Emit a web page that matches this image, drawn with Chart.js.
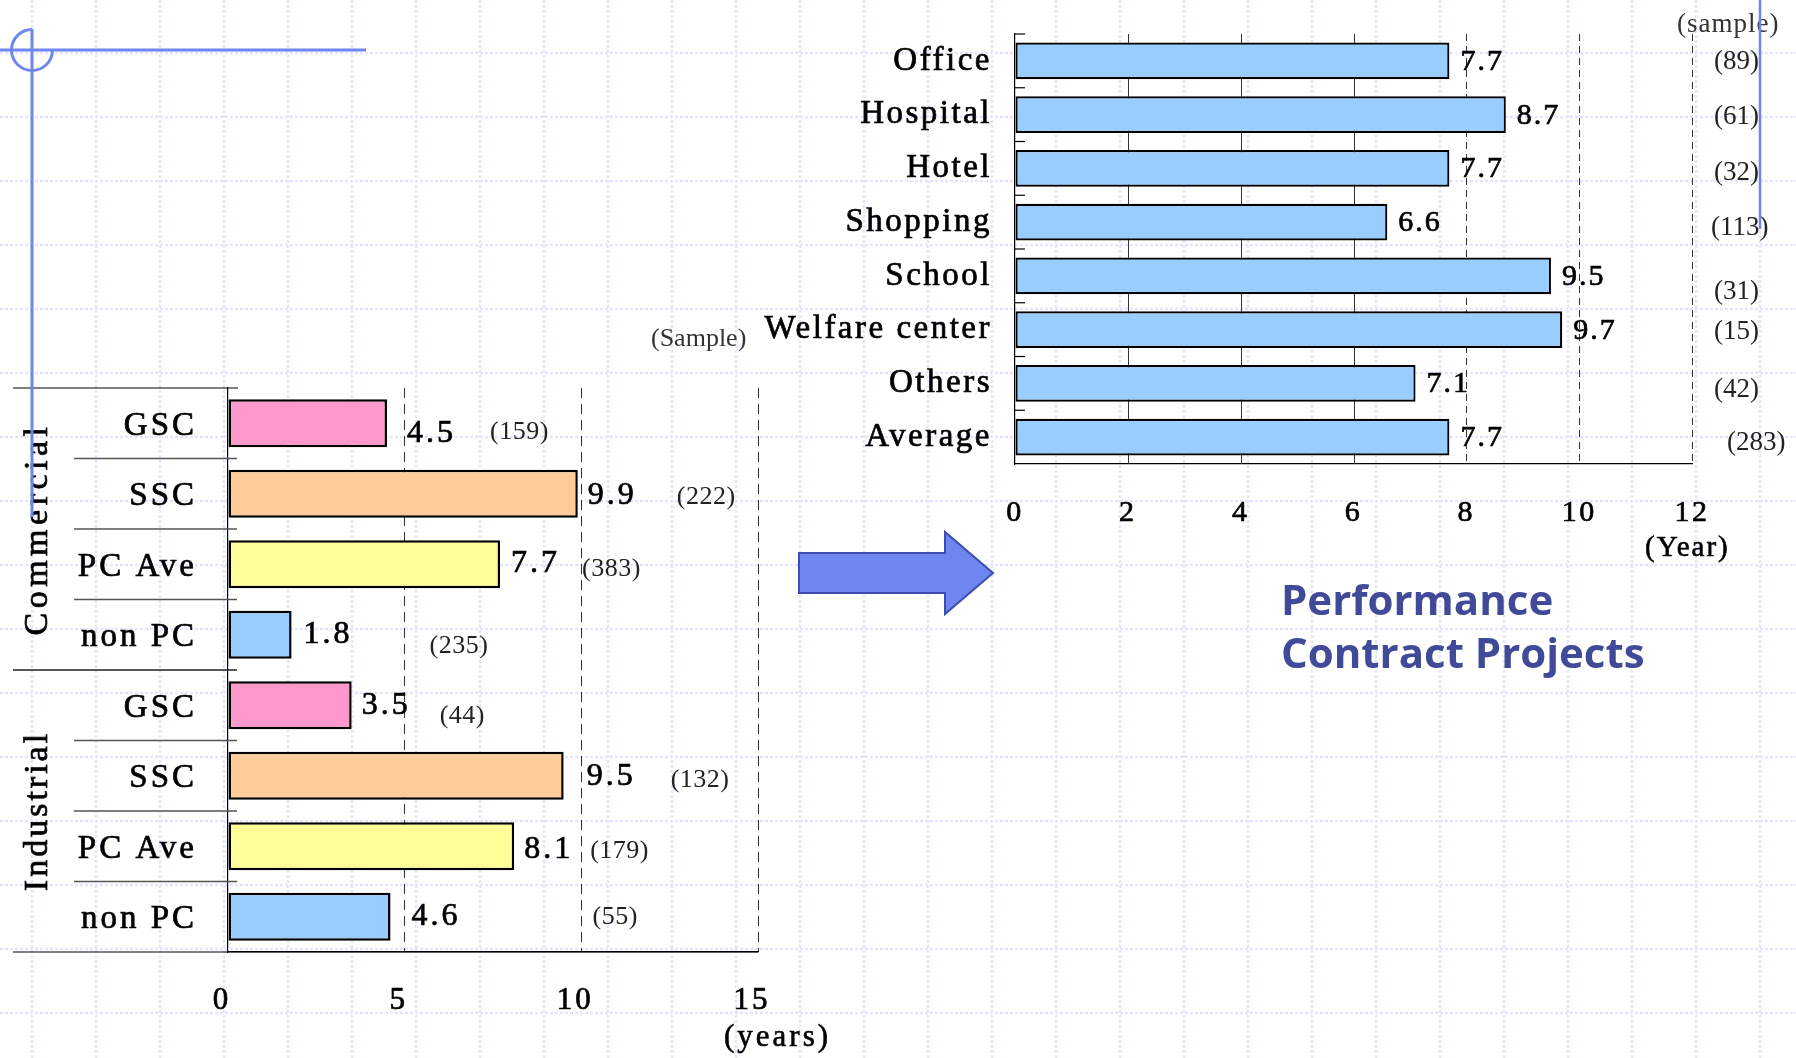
<!DOCTYPE html>
<html><head><meta charset="utf-8">
<script src="https://cdn.jsdelivr.net/npm/chart.js@4.4.0/dist/chart.umd.min.js"></script>
<style>
html,body{margin:0;padding:0;background:#fff;}
#page{position:relative;width:1796px;height:1058px;overflow:hidden;background:#fff;}
canvas.full{position:absolute;left:0;top:0;}
svg.deco{position:absolute;left:0;top:0;}
.t{position:absolute;white-space:nowrap;font-family:"Liberation Serif",serif;color:#222;line-height:1;}
.sb{-webkit-text-stroke:0.6px #000;}
.title{position:absolute;left:1281px;top:572px;font-family:"Open Sans",sans-serif;font-weight:700;font-size:42px;line-height:53px;color:#404a98;white-space:nowrap;}
</style></head><body>
<div id="page">
<canvas id="bg" class="full" width="1796" height="1058"></canvas>
<canvas id="leftChart" class="full" width="1796" height="1058"></canvas>
<canvas id="rightChart" class="full" width="1796" height="1058"></canvas>
<div class="t" style="left:651px;top:325px;font-size:26px;color:#333;">(Sample)</div>
<div class="t" style="left:1677px;top:10px;font-size:27px;color:#333;letter-spacing:1px;">(sample)</div>
<div class="t sb" style="left:724px;top:1020px;font-size:31px;color:#000;letter-spacing:3px;">(years)</div>
<div class="t sb" style="left:1645px;top:532px;font-size:29px;color:#000;letter-spacing:2px;">(Year)</div>
<div class="title">Performance<br>Contract Projects</div>
<svg class="deco" width="1796" height="1058">
  <line x1="0" y1="50" x2="366" y2="50" stroke="#6f86f0" stroke-width="3"/>
  <line x1="32" y1="29" x2="32" y2="517" stroke="#6f86f0" stroke-width="3"/>
  <path d="M 52.5 50 A 20.5 20.5 0 1 1 32 29.5" fill="none" stroke="#6f86f0" stroke-width="3"/>
  <line x1="1760" y1="0" x2="1760" y2="229" stroke="#6f86f0" stroke-width="2.5"/>
  <polygon points="799,553 945,553 945,532 993,573 945,614 945,593 799,593" fill="#6f86f0" stroke="#3c4cb0" stroke-width="2"/>
</svg>
</div>
<script>
// ---------------- DATA ----------------
const leftCategories = ['GSC', 'SSC', 'PC Ave', 'non PC', 'GSC', 'SSC', 'PC Ave', 'non PC'];
const leftGroups = ['Commercial', 'Industrial'];
const leftValues = [4.5, 9.9, 7.7, 1.8, 3.5, 9.5, 8.1, 4.6];
const leftSamples = [159, 222, 383, 235, 44, 132, 179, 55];
const leftTicks = [0, 5, 10, 15];

const rightCategories = ['Office', 'Hospital', 'Hotel', 'Shopping', 'School', 'Welfare center', 'Others', 'Average'];
const rightValues = [7.7, 8.7, 7.7, 6.6, 9.5, 9.7, 7.1, 7.7];
const rightSamples = [89, 61, 32, 113, 31, 15, 42, 283];
const rightTicks = [0, 2, 4, 6, 8, 10, 12];
const rightSolidGrid = [2, 4, 6];

// ---------------- STYLE / LAYOUT ----------------
const SERIF = '"Liberation Serif", serif';
const STROKE = 0.7;
const leftColors = ['#ff99cc', '#ffcc99', '#ffff99', '#99ccff', '#ff99cc', '#ffcc99', '#ffff99', '#99ccff'];
const leftValueDx = [20, 10, 11, 12, 10, 23, 10, 21];
const leftValueDy = [10, 2, -1, 0, 0, 1, 3, 0];
const leftSampleDx = [103, 99, 82, 138, 88, 107, 76, 202];
const leftSampleDy = [9, 3, 5, 11, 11, 4, 5, 0];
const rightSampleX = [1714, 1714, 1714, 1711, 1714, 1714, 1714, 1727];
const rightSampleDy = [1, 2, 5, 6, 16, 2, 7, 6];

// ---------------- BACKGROUND GRID ----------------
(function(){
  const c = document.getElementById('bg').getContext('2d');
  c.fillStyle = '#fff'; c.fillRect(0,0,1796,1058);
  c.strokeStyle = '#e2e7fb'; c.lineWidth = 2.5; c.setLineDash([3,2]);
  for (let x = 32; x < 1796; x += 64) { c.beginPath(); c.moveTo(x,0); c.lineTo(x,1058); c.stroke(); }
  for (let y = 53; y < 1058; y += 64) { c.beginPath(); c.moveTo(0,y); c.lineTo(1796,y); c.stroke(); }
})();

function txt(ctx, s, x, y, size, color, ls, stroke) {
  ctx.save();
  ctx.font = size + 'px ' + SERIF;
  ctx.fillStyle = color;
  ctx.letterSpacing = ls + 'px';
  ctx.textAlign = 'left';
  ctx.textBaseline = 'middle';
  ctx.fillText(s, x, y);
  if (stroke) { ctx.lineWidth = stroke; ctx.strokeStyle = color; ctx.setLineDash([]); ctx.strokeText(s, x, y); }
  ctx.restore();
}

// ---------------- LEFT CHART ----------------
const leftPlugin = {
  id: 'leftDeco',
  beforeDraw(chart) { chart.ctx.letterSpacing = '3px'; },
  afterDatasetsDraw(chart) {
    const ctx = chart.ctx;
    const meta = chart.getDatasetMeta(0);
    meta.data.forEach((bar, i) => {
      txt(ctx, leftValues[i].toFixed(1), bar.x + leftValueDx[i], bar.y + leftValueDy[i], 32, '#000', 3, STROKE);
      txt(ctx, '(' + leftSamples[i] + ')', bar.x + leftSampleDx[i], bar.y + leftSampleDy[i], 26, '#222', 0.5, 0);
    });
  },
  afterDraw(chart) {
    const ctx = chart.ctx;
    const x = chart.scales.x, y = chart.scales.y;
    const ax = x.getPixelForValue(0);
    const n = leftCategories.length;
    ctx.save();
    ctx.letterSpacing = '0px';
    ctx.setLineDash([]);
    ctx.strokeStyle = '#000'; ctx.lineWidth = 1.2;
    let yy = y.getPixelForValue(-0.5);
    ctx.beginPath(); ctx.moveTo(13, yy); ctx.lineTo(ax + 10, yy); ctx.stroke();
    yy = y.getPixelForValue(n - 0.5);
    ctx.beginPath(); ctx.moveTo(13, yy); ctx.lineTo(x.getPixelForValue(leftTicks[leftTicks.length-1]), yy); ctx.stroke();
    for (let i = 0; i < n - 1; i++) {
      yy = y.getPixelForValue(i + 0.5);
      const full = (i === 3);
      ctx.strokeStyle = full ? '#222' : '#555';
      ctx.lineWidth = 1.5;
      ctx.beginPath(); ctx.moveTo(full ? 13 : 74, yy); ctx.lineTo(ax + 9, yy); ctx.stroke();
    }
    const gy = [ (y.getPixelForValue(0) + y.getPixelForValue(3)) / 2, (y.getPixelForValue(4) + y.getPixelForValue(7)) / 2 ];
    const gls = [4.5, 3];
    leftGroups.forEach((g, k) => {
      ctx.save();
      ctx.translate(38, gy[k]);
      ctx.rotate(-Math.PI / 2);
      ctx.font = '34px ' + SERIF;
      ctx.fillStyle = '#000';
      ctx.strokeStyle = '#000';
      ctx.lineWidth = STROKE;
      ctx.letterSpacing = gls[k] + 'px';
      ctx.textAlign = 'center';
      ctx.textBaseline = 'middle';
      ctx.fillText(g, 0, 0);
      ctx.strokeText(g, 0, 0);
      ctx.restore();
    });
    ctx.restore();
  }
};

new Chart(document.getElementById('leftChart'), {
  type: 'bar',
  data: {
    labels: leftCategories,
    datasets: [{
      data: leftValues,
      backgroundColor: leftColors,
      borderColor: '#000',
      borderWidth: 2.5,
      borderSkipped: false,
      barPercentage: 0.68,
      categoryPercentage: 1
    }]
  },
  options: {
    indexAxis: 'y',
    responsive: false,
    animation: false,
    devicePixelRatio: 1,
    layout: { padding: { left: 0, top: 388, right: 1038, bottom: 0 } },
    plugins: { legend: { display: false }, tooltip: { enabled: false } },
    scales: {
      x: {
        min: 0, max: 15,
        afterBuildTicks(s) { s.ticks = leftTicks.map(v => ({ value: v })); },
        afterFit(s) { s.height = 106; },
        grid: { color: c => (c.tick && c.tick.value === 0) ? 'rgba(0,0,0,0)' : '#333', lineWidth: 1, drawTicks: false },
        border: { display: true, color: '#000', width: 1.2, dash: [10, 6] },
        ticks: { color: '#000', font: { family: SERIF, size: 31 }, padding: 30, labelOffset: -6, textStrokeColor: '#000', textStrokeWidth: STROKE }
      },
      y: {
        afterFit(s) { s.width = 228; s.paddingTop = 0; s.paddingBottom = 0; },
        grid: { display: false, drawTicks: false },
        border: { display: true, color: '#000', width: 1.2 },
        ticks: { color: '#000', font: { family: SERIF, size: 33 }, padding: 31, labelOffset: 3, textStrokeColor: '#000', textStrokeWidth: STROKE }
      }
    }
  },
  plugins: [leftPlugin]
});

// ---------------- RIGHT CHART ----------------
const rightPlugin = {
  id: 'rightDeco',
  beforeDraw(chart) { chart.ctx.letterSpacing = '2.5px'; },
  beforeDatasetsDraw(chart) {
    const ctx = chart.ctx;
    const x = chart.scales.x;
    ctx.save();
    ctx.setLineDash([]);
    ctx.strokeStyle = '#333'; ctx.lineWidth = 1;
    rightSolidGrid.forEach(v => {
      const px = Math.round(x.getPixelForValue(v)) + 0.5;
      ctx.beginPath(); ctx.moveTo(px, chart.chartArea.top); ctx.lineTo(px, chart.chartArea.bottom); ctx.stroke();
    });
    ctx.restore();
  },
  afterDatasetsDraw(chart) {
    const ctx = chart.ctx;
    const meta = chart.getDatasetMeta(0);
    meta.data.forEach((bar, i) => {
      txt(ctx, rightValues[i].toFixed(1), bar.x + 11, bar.y + 1, 30, '#000', 2, STROKE);
      txt(ctx, '(' + rightSamples[i] + ')', rightSampleX[i], bar.y + rightSampleDy[i], 27, '#222', 0, 0);
    });
  },
  afterDraw(chart) {
    const ctx = chart.ctx;
    const x = chart.scales.x, y = chart.scales.y;
    const ax = x.getPixelForValue(0);
    ctx.save();
    ctx.setLineDash([]);
    ctx.strokeStyle = '#000'; ctx.lineWidth = 1.2;
    for (let i = 0; i < rightCategories.length; i++) {
      const yy = y.getPixelForValue(i - 0.5);
      ctx.beginPath(); ctx.moveTo(ax, yy); ctx.lineTo(ax + 10, yy); ctx.stroke();
    }
    ctx.restore();
  }
};

new Chart(document.getElementById('rightChart'), {
  type: 'bar',
  data: {
    labels: rightCategories,
    datasets: [{
      data: rightValues,
      backgroundColor: '#99ccff',
      borderColor: '#000',
      borderWidth: 2.2,
      borderSkipped: false,
      barPercentage: 0.68,
      categoryPercentage: 1
    }]
  },
  options: {
    indexAxis: 'y',
    responsive: false,
    animation: false,
    devicePixelRatio: 1,
    layout: { padding: { left: 700, top: 34, right: 104, bottom: 514 } },
    plugins: { legend: { display: false }, tooltip: { enabled: false } },
    scales: {
      x: {
        min: 0, max: 12,
        afterBuildTicks(s) { s.ticks = rightTicks.map(v => ({ value: v })); },
        afterFit(s) { s.height = 80; },
        grid: { color: c => (c.tick && (c.tick.value === 0 || rightSolidGrid.includes(c.tick.value))) ? 'rgba(0,0,0,0)' : '#333', lineWidth: 1, drawTicks: false },
        border: { display: true, color: '#000', width: 1.2, dash: [7, 5] },
        ticks: { color: '#000', font: { family: SERIF, size: 30 }, padding: 31, textStrokeColor: '#000', textStrokeWidth: STROKE }
      },
      y: {
        afterFit(s) { s.width = 315; s.paddingTop = 0; s.paddingBottom = 0; },
        grid: { display: false, drawTicks: false },
        border: { display: true, color: '#000', width: 1.2 },
        ticks: { color: '#000', font: { family: SERIF, size: 33 }, padding: 23, textStrokeColor: '#000', textStrokeWidth: STROKE }
      }
    }
  },
  plugins: [rightPlugin]
});
</script>
</body></html>
